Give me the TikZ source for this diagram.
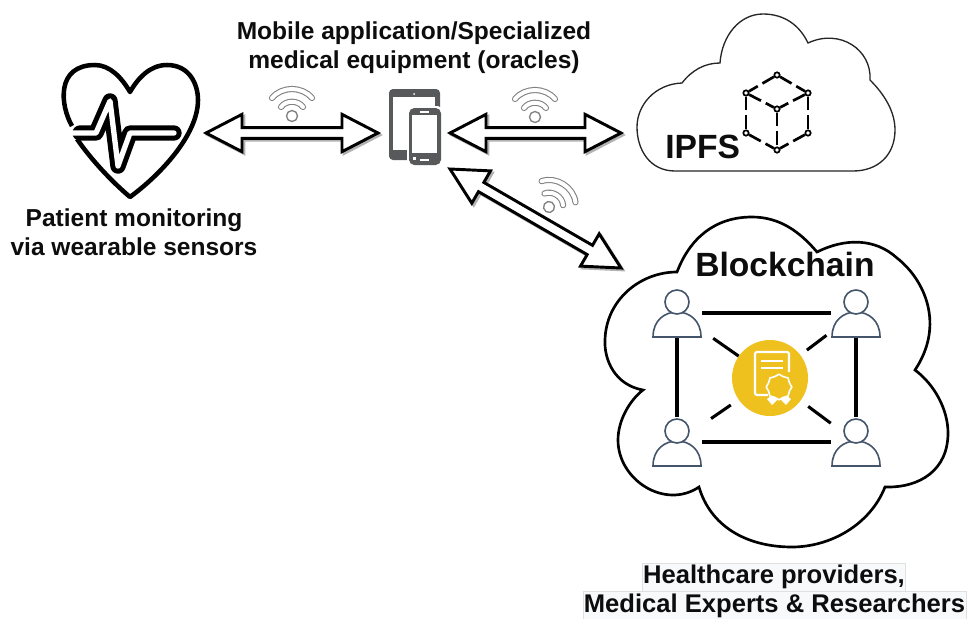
\documentclass[tikz,border=0pt]{standalone}
\usepackage{fontspec}
\setmainfont{Liberation Sans}
\usetikzlibrary{calc}
\definecolor{persona}{HTML}{44546A}
\definecolor{certy}{HTML}{EFC11F}
\definecolor{tabg}{HTML}{58595B}
\definecolor{hilite}{HTML}{F7F9FB}
\newcommand{\arrH}{27pt}
\newcommand{\arrW}{14pt}
\newcommand{\arrS}{4pt}
\tikzset{
  x=0.75pt,y=-0.75pt,
  lbl/.style={font=\bfseries\fontsize{18.4}{22}\selectfont,align=center,inner sep=0pt,text=black!95},
  lblb/.style={font=\bfseries\fontsize{19.2}{22}\selectfont,align=center,inner sep=0pt,text=black!95,fill=hilite,draw=black!12,line width=0.5pt,inner ysep=1.5pt,inner xsep=0.5pt},
  big/.style={font=\bfseries\fontsize{25.2}{30}\selectfont,inner sep=0pt,anchor=base west,text=black!95},
  bigarrow/.style={draw=black,fill=white,line width=2.2pt,line join=miter,
    preaction={draw=black!30,fill=black!30,line width=2pt,transform canvas={shift={(1.5pt,-1.5pt)}}},
    to path={
      -- ($(\tikztostart)!\arrH!(\tikztotarget)!\arrW!90:(\tikztotarget)$)
      -- ($(\tikztostart)!\arrH!(\tikztotarget)!\arrS!90:(\tikztotarget)$)
      -- ($(\tikztotarget)!\arrH!(\tikztostart)!\arrS!-90:(\tikztostart)$)
      -- ($(\tikztotarget)!\arrH!(\tikztostart)!\arrW!-90:(\tikztostart)$)
      -- (\tikztotarget)
      -- ($(\tikztotarget)!\arrH!(\tikztostart)!\arrW!90:(\tikztostart)$)
      -- ($(\tikztotarget)!\arrH!(\tikztostart)!\arrS!90:(\tikztostart)$)
      -- ($(\tikztostart)!\arrH!(\tikztotarget)!\arrS!-90:(\tikztotarget)$)
      -- ($(\tikztostart)!\arrH!(\tikztotarget)!\arrW!-90:(\tikztotarget)$)
      -- cycle}},
  peer/.style={minimum width=37.5pt,minimum height=37.5pt,inner sep=0pt},
  netedge/.style={line width=2.3pt,black},
  cubev/.style={circle,draw=black,fill=white,line width=1.3pt,minimum size=4pt,inner sep=0pt},
  cubee/.style={line width=2pt,black,dash pattern=on 10pt off 4pt},
  wifi/.pic={
    \foreach \c/\w in {black!50/4.6pt,white/3pt}{
      \draw[draw=\c,line width=\w,line cap=round] (-20,-18) .. controls (-10,-30) and (10,-30) .. (20,-18);
      \draw[draw=\c,line width=\w,line cap=round] (-11,-9) .. controls (-6,-16) and (6,-16) .. (11,-9);
    }
    \draw[black!50,line width=1pt,fill=white] (0,0) circle (5.5);
  },
  person/.pic={
    \draw[persona,line width=1.2pt,fill=white] (-24,35) .. controls (-24,18) and (-12,10) .. (0,10) .. controls (12,10) and (24,18) .. (24,35) -- cycle;
    \draw[persona,line width=1.2pt,fill=white] (0,0) circle (12);
  }
}
\begin{document}
\begin{tikzpicture}
\useasboundingbox (0,0) rectangle (968,618);
% heart
\node[minimum width=105pt,minimum height=100pt,inner sep=0pt] (heart) at (130,131) {};
\draw[line width=3.4pt,black,line join=round,line cap=butt]
  (72,126) .. controls (60,105) and (56,65) .. (95,65)
  .. controls (110,65) and (122,78) .. (130,92)
  .. controls (138,78) and (150,65) .. (167,65)
  .. controls (190,65) and (198,85) .. (198,100)
  .. controls (198,135) and (160,175) .. (130,197)
  .. controls (110,180) and (90,158) .. (77,139);
\draw[line width=11.5pt,black,line join=round,line cap=round] (80,133) -- (96,133) -- (110,101) -- (118,166) -- (130,133) -- (174,133);
\draw[line width=4pt,white,line join=round,line cap=round] (70,133) -- (96,133) -- (110,101) -- (118,166) -- (130,133) -- (174,133);
% tablet and phone
\node[minimum width=39pt,minimum height=57pt,inner sep=0pt] (tablet) at (415,127) {};
\fill[tabg,rounded corners=3pt] (389,89) rectangle (440,160);
\fill[white] (393,97) rectangle (435,150);
\fill[white] (414,94) circle (1);
\fill[white] (413,154) rectangle (416,157);
\fill[white,rounded corners=4pt] (407,106) rectangle (443,167);
\fill[tabg,rounded corners=4pt] (409,108) rectangle (441,165);
\fill[white] (412,115) rectangle (437,153);
\draw[white,line width=1pt] (420,112) -- (429,112);
\draw[white,line width=1pt] (420,160) -- (429,160);
\fill[white] (413,157) rectangle (416,160);
% IPFS cloud
\draw[line width=1pt,black!85,fill=white]
  (675,171) .. controls (650,171) and (637,150) .. (637,127)
  .. controls (637,105) and (655,84) .. (682,83)
  .. controls (692,70) and (705,63) .. (720,63)
  .. controls (722,35) and (740,14) .. (763,14)
  .. controls (785,14) and (800,26) .. (808,43)
  .. controls (840,28) and (872,50) .. (870,80)
  .. controls (885,95) and (895,112) .. (895,130)
  .. controls (895,155) and (878,171) .. (853,171)
  -- cycle;
\node[big] (ipfs) at (665,158) {IPFS};
\node[cubev] (c1) at (777,75) {};
\node[cubev] (c2) at (808,93) {};
\node[cubev] (c3) at (746,93) {};
\node[cubev] (c4) at (777,109) {};
\node[cubev] (c5) at (808,133) {};
\node[cubev] (c6) at (746,133) {};
\node[cubev] (c7) at (777,150) {};
\foreach \a/\b in {c1/c2,c1/c3,c3/c4,c2/c4,c4/c7,c3/c6,c2/c5,c6/c7,c5/c7}
  \draw[cubee] (\a) -- (\b);
% blockchain cloud
\draw[line width=2pt,black,fill=white]
  (677,272) .. controls (690,238) and (715,217) .. (752,217)
  .. controls (780,217) and (800,232) .. (817,252)
  .. controls (845,238) and (875,238) .. (897,258)
  .. controls (925,280) and (945,325) .. (915,370)
  .. controls (935,385) and (948,410) .. (948,433)
  .. controls (948,470) and (920,488) .. (885,487)
  .. controls (870,525) and (830,547) .. (792,547)
  .. controls (745,547) and (710,525) .. (699,487)
  .. controls (665,510) and (618,480) .. (618,440)
  .. controls (618,420) and (630,400) .. (643,390)
  .. controls (615,385) and (604,360) .. (605,340)
  .. controls (606,300) and (640,272) .. (677,272)
  -- cycle;
\node[big] (bc) at (695,276) {Blockchain};
% network
\node[peer] (p1) at (677,313) {};
\node[peer] (p2) at (856,313) {};
\node[peer] (p3) at (677,442) {};
\node[peer] (p4) at (856,442) {};
\node[circle,fill=certy,minimum size=57pt,inner sep=0pt] (cert) at (770,378) {};
\draw[netedge] (p1) -- (p2);
\draw[netedge] (p3) -- (p4);
\draw[netedge] (p1) -- (p3);
\draw[netedge] (p2) -- (p4);
\draw[netedge,shorten <=10pt] (p1) -- (cert);
\draw[netedge,shorten <=4pt,shorten >=6pt] (p2) -- (cert);
\draw[netedge,shorten <=8pt,shorten >=7pt] (p3) -- (cert);
\draw[netedge,shorten >=7pt] (p4) -- (cert);
\pic at (677,302) {person};
\pic at (856,302) {person};
\pic at (677,431) {person};
\pic at (856,431) {person};
% certificate
\draw[white,line width=1.6pt,rounded corners=1.5pt] (768,395) -- (755,395) -- (755,352) -- (789,352) -- (789,372);
\draw[white,line width=1.6pt] (761,361) -- (783,361);
\draw[white,line width=1.6pt] (761,368) -- (783,368);
\fill[white] (767,399) -- (775,393) -- (778,399) -- (772,405) -- cycle;
\fill[white] (791,399) -- (783,393) -- (780,399) -- (786,405) -- cycle;
\coordinate (ro) at (779,387);
\draw[white,line width=1.2pt,fill=certy,line join=round]
  ($(ro)+(0:9.6pt)$) -- ($(ro)+(22.5:8.4pt)$) -- ($(ro)+(45:9.6pt)$) -- ($(ro)+(67.5:8.4pt)$)
  -- ($(ro)+(90:9.6pt)$) -- ($(ro)+(112.5:8.4pt)$) -- ($(ro)+(135:9.6pt)$) -- ($(ro)+(157.5:8.4pt)$)
  -- ($(ro)+(180:9.6pt)$) -- ($(ro)+(202.5:8.4pt)$) -- ($(ro)+(225:9.6pt)$) -- ($(ro)+(247.5:8.4pt)$)
  -- ($(ro)+(270:9.6pt)$) -- ($(ro)+(292.5:8.4pt)$) -- ($(ro)+(315:9.6pt)$) -- ($(ro)+(337.5:8.4pt)$) -- cycle;
% arrows
\coordinate (a1l) at (206,133);
\coordinate (a1r) at (378,133);
\coordinate (a2l) at (450,133);
\coordinate (a2r) at (621,133);
\coordinate (a3l) at (450,169);
\coordinate (a3r) at (621,268);
\draw[bigarrow] (a1l) to (a1r);
\draw[bigarrow] (a2l) to (a2r);
\draw[bigarrow] (a3l) to (a3r);
% wifi
\pic at (292,116) {wifi};
\pic at (535,117) {wifi};
\pic[rotate=-32] at (549,207) {wifi};
% labels
\node[lbl] (mobile) at (414,47.5) {Mobile application/Specialized\\medical equipment (oracles)};
\node[lbl] (patient) at (134,232) {Patient monitoring\\via wearable sensors};
\node[lblb] (hc) at (774,577) {Healthcare providers,};
\node[lblb] (me) at (774.5,605.5) {Medical Experts \& Researchers};
\end{tikzpicture}
\end{document}
